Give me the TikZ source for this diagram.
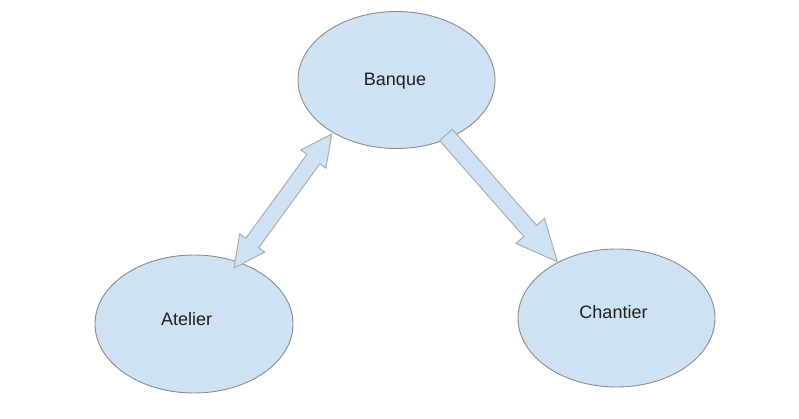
\documentclass[tikz,border=0pt]{standalone}
\usepackage{fontspec}
\setmainfont{Liberation Sans}
\usetikzlibrary{shapes.geometric,calc}
\definecolor{fillblue}{HTML}{CFE2F3}
\definecolor{edgegray}{HTML}{8C8C8C}
\definecolor{arrowgray}{HTML}{A8A8A8}
% double block arrow: #1 start tip, #2 end tip, #3 head length, #4 head half width, #5 shaft half width
\newcommand\mydblarrow[5]{%
  \draw[blockarrow] let \p1=($(#2)-(#1)$), \n1={atan2(\y1,\x1)} in
    (#1)
    -- ($(#1)+(\n1:#3)+(\n1+90:#4)$)
    -- ($(#1)+(\n1:#3)+(\n1+90:#5)$)
    -- ($(#2)+(\n1+180:#3)+(\n1+90:#5)$)
    -- ($(#2)+(\n1+180:#3)+(\n1+90:#4)$)
    -- (#2)
    -- ($(#2)+(\n1+180:#3)+(\n1-90:#4)$)
    -- ($(#2)+(\n1+180:#3)+(\n1-90:#5)$)
    -- ($(#1)+(\n1:#3)+(\n1-90:#5)$)
    -- ($(#1)+(\n1:#3)+(\n1-90:#4)$)
    -- cycle;}
% single block arrow: #1 tail centre, #2 tip
\newcommand\mysglarrow[5]{%
  \draw[blockarrow] let \p1=($(#2)-(#1)$), \n1={atan2(\y1,\x1)} in
    ($(#1)+(\n1+90:#5)$)
    -- ($(#2)+(\n1+180:#3)+(\n1+90:#5)$)
    -- ($(#2)+(\n1+180:#3)+(\n1+90:#4)$)
    -- (#2)
    -- ($(#2)+(\n1+180:#3)+(\n1-90:#4)$)
    -- ($(#2)+(\n1+180:#3)+(\n1-90:#5)$)
    -- ($(#1)+(\n1-90:#5)$)
    -- cycle;}
\begin{document}
\begin{tikzpicture}[x=1pt,y=-1pt,
  place/.style={ellipse, draw=edgegray, fill=fillblue, line width=0.9pt,
    inner sep=0pt, outer sep=0pt, minimum width=197pt, minimum height=137pt},
  lbl/.style={anchor=base, inner sep=0pt, text=black!88,
    font=\fontsize{18}{20}\selectfont},
  blockarrow/.style={draw=arrowgray, fill=fillblue, line width=0.9pt, line join=miter}]
\useasboundingbox (0,0) rectangle (799,419);
\fill[white] (0,0) rectangle (799,419);

\node[place] (banque) at (396.5,80) {};
\node[place, minimum width=198pt, minimum height=138pt] (atelier) at (194,324) {};
\node[place, minimum height=138pt] (chantier) at (616.5,318) {};

\node[lbl] (tbanque) at (395,85.7) {Banque};
\node[lbl] (tatelier) at (186.7,325) {Atelier};
\node[lbl] (tchantier) at (613.5,318.5) {Chantier};

\coordinate (attip) at (234,268);
\coordinate (bqtip) at (331.7,134);
\coordinate (bqtail) at (446,135);
\coordinate (chtip) at (557.3,261.7);

\mydblarrow{attip}{bqtip}{31pt}{15.5pt}{8pt}
\mysglarrow{bqtail}{chtip}{41pt}{19pt}{8.5pt}
\end{tikzpicture}
\end{document}
